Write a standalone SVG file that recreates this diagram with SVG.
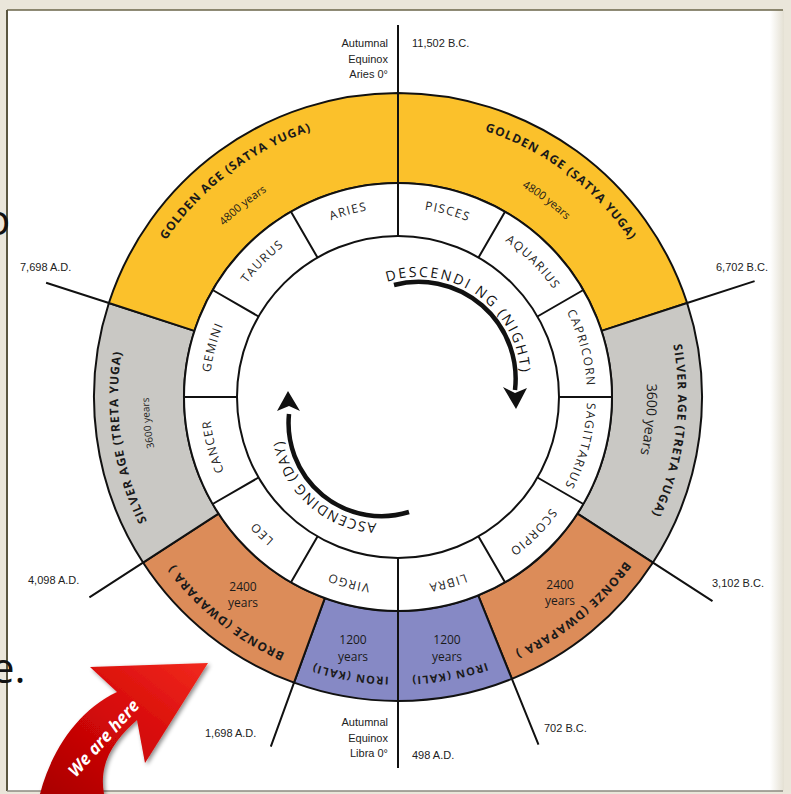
<svg xmlns="http://www.w3.org/2000/svg" width="791" height="794" viewBox="0 0 791 794">
<style>
.ring{stroke:#111;stroke-width:2;stroke-linejoin:round}
.gold{fill:#FBC12B}.silver{fill:#C9C8C4}.bronze{fill:#DC8C59}.iron{fill:#8689C5}
.ln{stroke:#111;stroke-width:2;fill:none}
.lbl{font-family:"Liberation Sans",Arial,sans-serif;font-size:11px;fill:#222}
.title{font-family:"Open Sans",sans-serif;font-weight:700;font-size:12px;fill:#1a1a1a;letter-spacing:1px}
.yrs{font-family:"Open Sans",sans-serif;font-size:11px;fill:#1a1a1a}
.num{font-family:"Open Sans",sans-serif;font-size:12px;fill:#1a1a1a;text-anchor:middle}
.zod{font-family:"Open Sans",sans-serif;font-size:12px;fill:#222;letter-spacing:1.3px}
.dir{font-family:"Open Sans",sans-serif;font-size:14px;fill:#111}
.mid{text-anchor:middle}
.end{text-anchor:end}
.slide{font-family:"Open Sans",sans-serif;font-size:42px;fill:#111}
</style>
<defs>
<path id="c280" d="M398,677 A280,280 0 1 1 398,117 A280,280 0 1 1 398,677"/>
<path id="c244" d="M398,641 A244,244 0 1 1 398,153 A244,244 0 1 1 398,641"/>
<path id="c249" d="M398,646 A249,249 0 1 1 398,148 A249,249 0 1 1 398,646"/>
<path id="c189" d="M398,586 A189,189 0 1 1 398,208 A189,189 0 1 1 398,586"/>
<path id="descPath" d="M383.81,282.95 A102,102 0 0 1 520.7,378.8"/>
<path id="ascPath" d="M381.5,523.2 A100,100 0 0 1 287.53,389"/>
<linearGradient id="redg" x1="0" y1="1" x2="1" y2="0">
<stop offset="0" stop-color="#A80000"/>
<stop offset="0.5" stop-color="#D40808"/>
<stop offset="1" stop-color="#F22A1E"/>
</linearGradient>
<linearGradient id="rightshade" x1="0" y1="0" x2="1" y2="0">
<stop offset="0" stop-color="#FFFFFF"/>
<stop offset="1" stop-color="#E4E0D3"/>
</linearGradient>
<filter id="shadow" x="-20%" y="-20%" width="140%" height="140%">
<feDropShadow dx="2" dy="2" stdDeviation="2" flood-color="#000" flood-opacity="0.45"/>
</filter>
</defs>

<!-- slide frame -->
<g id="frame">
<rect x="0" y="0" width="791" height="794" fill="#EAE6DA"/>
<rect x="7" y="10" width="776" height="781" fill="#FFFFFF"/>
<rect x="770" y="10" width="14" height="781" fill="url(#rightshade)"/>
<line x1="7" y1="10" x2="783" y2="10" stroke="#6A6548" stroke-width="1.5"/>
<line x1="7" y1="10" x2="7" y2="791" stroke="#5A5640" stroke-width="2"/>
<line x1="7" y1="791" x2="783" y2="791" stroke="#8C8A80" stroke-width="1.5"/>
<text class="slide" x="-15" y="235">o</text>
<text class="slide" x="-9" y="683">e.</text>
</g>

<!-- yuga ring -->
<g id="golden-right"><path class="ring gold" d="M398,93 A304,304 0 0 1 687.12,303.06 L601.53,330.87 A214,214 0 0 0 398,183 Z"/></g>
<g id="silver-right"><path class="ring silver" d="M687.12,303.06 A304,304 0 0 1 652.96,562.57 L577.48,513.55 A214,214 0 0 0 601.53,330.87 Z"/></g>
<g id="bronze-right"><path class="ring bronze" d="M652.96,562.57 A304,304 0 0 1 511.88,678.86 L478.17,595.42 A214,214 0 0 0 577.48,513.55 Z"/></g>
<g id="iron-right"><path class="ring iron" d="M511.88,678.86 A304,304 0 0 1 398,701 L398,611 A214,214 0 0 0 478.17,595.42 Z"/></g>
<g id="iron-left"><path class="ring iron" d="M398,701 A304,304 0 0 1 294.03,682.67 L324.81,598.09 A214,214 0 0 0 398,611 Z"/></g>
<g id="bronze-left"><path class="ring bronze" d="M294.03,682.67 A304,304 0 0 1 143.04,562.57 L218.52,513.55 A214,214 0 0 0 324.81,598.09 Z"/></g>
<g id="silver-left"><path class="ring silver" d="M143.04,562.57 A304,304 0 0 1 108.88,303.06 L194.47,330.87 A214,214 0 0 0 218.52,513.55 Z"/></g>
<g id="golden-left"><path class="ring gold" d="M108.88,303.06 A304,304 0 0 1 398,93 L398,183 A214,214 0 0 0 194.47,330.87 Z"/></g>

<!-- zodiac ring -->
<g id="zodiac">
<circle cx="398" cy="397" r="214" fill="#FFFFFF" stroke="#111" stroke-width="2"/>
<circle cx="398" cy="397" r="161" fill="#FFFFFF" stroke="#111" stroke-width="2"/>
<path class="ln" d="M478.5,257.57 L505,211.67 M537.43,316.5 L583.33,290 M559,397 L612,397 M537.43,477.5 L583.33,504 M478.5,536.43 L505,582.33 M317.5,536.43 L291,582.33 M258.57,477.5 L212.67,504 M237,397 L184,397 M258.57,316.5 L212.67,290 M317.5,257.57 L291,211.67"/>
</g>

<!-- connectors: axis and date lines -->
<g id="connectors">
<path class="ln" d="M398,25 L398,236 M398,558 L398,768"/>
<path class="ln" d="M687.12,303.06 L754.6,281.1 M108.88,303.06 L46.1,282.7 M652.96,562.57 L712.5,601.2 M143.04,562.57 L89.4,597.4 M511.88,678.86 L538.5,744.7 M294.03,682.67 L270.8,746.6"/>
</g>

<!-- ring labels -->
<g id="ring-labels">
<text class="title"><textPath href="#c280" startOffset="698.8" text-anchor="middle">GOLDEN AGE (SATYA YUGA)</textPath></text>
<text class="title"><textPath href="#c280" startOffset="1060.5" text-anchor="middle">GOLDEN AGE (SATYA YUGA)</textPath></text>
<text class="yrs"><textPath href="#c244" startOffset="600.5" text-anchor="middle">4800 years</textPath></text>
<text class="yrs"><textPath href="#c244" startOffset="924.1" text-anchor="middle">4800 years</textPath></text>
<text class="title"><textPath href="#c280" startOffset="398.3" text-anchor="middle">SILVER AGE (TRETA YUGA)</textPath></text>
<text class="title"><textPath href="#c280" startOffset="1353.7" text-anchor="middle">SILVER AGE (TRETA YUGA)</textPath></text>
<text class="yrs" style="font-size:10px"><textPath href="#c249" startOffset="365.1" text-anchor="middle">3600 years</textPath></text>
<text class="yrs" style="font-size:14px"><textPath href="#c249" startOffset="1195.1" text-anchor="middle">3600 years</textPath></text>
<text class="title" style="letter-spacing:1.2px"><textPath href="#c280" startOffset="188.6" text-anchor="middle">BRONZE (DWAPARA )</textPath></text>
<text class="title" style="letter-spacing:1.2px"><textPath href="#c280" startOffset="1566.3" text-anchor="middle">BRONZE (DWAPARA )</textPath></text>
<text class="title" style="font-size:11px;letter-spacing:1.2px"><textPath href="#c280" startOffset="47.9" text-anchor="middle">IRON (KALI)</textPath></text>
<text class="title" style="font-size:11px;letter-spacing:1.2px"><textPath href="#c280" startOffset="1707" text-anchor="middle">IRON (KALI)</textPath></text>
<text class="num" x="243" y="591">2400</text>
<text class="num" x="243" y="607">years</text>
<text class="num" x="560" y="589">2400</text>
<text class="num" x="560" y="605">years</text>
<text class="num" x="353" y="644">1200</text>
<text class="num" x="353" y="661">years</text>
<text class="num" x="447" y="644">1200</text>
<text class="num" x="447" y="661">years</text>
</g>

<!-- zodiac labels -->
<g id="zodiac-labels">
<text class="zod"><textPath href="#c189" startOffset="643.2" text-anchor="middle">PISCES</textPath></text>
<text class="zod"><textPath href="#c189" startOffset="742.2" text-anchor="middle">AQUARIUS</textPath></text>
<text class="zod"><textPath href="#c189" startOffset="841.2" text-anchor="middle">CAPRICORN</textPath></text>
<text class="zod"><textPath href="#c189" startOffset="940.1" text-anchor="middle">SAGITTARIUS</textPath></text>
<text class="zod"><textPath href="#c189" startOffset="1039.1" text-anchor="middle">SCORPIO</textPath></text>
<text class="zod"><textPath href="#c189" startOffset="1138.1" text-anchor="middle">LIBRA</textPath></text>
<text class="zod"><textPath href="#c189" startOffset="49.5" text-anchor="middle">VIRGO</textPath></text>
<text class="zod"><textPath href="#c189" startOffset="148.4" text-anchor="middle">LEO</textPath></text>
<text class="zod"><textPath href="#c189" startOffset="247.4" text-anchor="middle">CANCER</textPath></text>
<text class="zod"><textPath href="#c189" startOffset="346.4" text-anchor="middle">GEMINI</textPath></text>
<text class="zod"><textPath href="#c189" startOffset="445.3" text-anchor="middle">TAURUS</textPath></text>
<text class="zod"><textPath href="#c189" startOffset="544.3" text-anchor="middle">ARIES</textPath></text>
</g>

<!-- descending / ascending arrows -->
<g id="descending">
<path d="M394,285 A97,97 0 0 1 515,390" fill="none" stroke="#111" stroke-width="4.5"/>
<polygon points="503,387 515,393 527,388 516,409" fill="#111"/>
<text class="dir" style="letter-spacing:2.2px"><textPath href="#descPath" startOffset="3.5">DESCENDI NG (NIGHT)</textPath></text>
</g>
<g id="ascending">
<path d="M409,512 A93,93 0 0 1 289,414" fill="none" stroke="#111" stroke-width="4.5"/>
<polygon points="277,411 289,406 300,411 288,391" fill="#111"/>
<text class="dir" style="letter-spacing:1.2px"><textPath href="#ascPath" startOffset="5">ASCENDING (DAY)</textPath></text>
</g>

<!-- date / equinox labels -->
<g id="top-labels">
<text class="lbl end" x="388" y="47">Autumnal</text>
<text class="lbl end" x="388" y="63">Equinox</text>
<text class="lbl end" x="388" y="78">Aries 0°</text>
<text class="lbl" x="412" y="47">11,502 B.C.</text>
</g>
<g id="side-labels">
<text class="lbl" x="20" y="271">7,698 A.D.</text>
<text class="lbl" x="716" y="271">6,702 B.C.</text>
<text class="lbl" x="28" y="584">4,098 A.D.</text>
<text class="lbl" x="712" y="587">3,102 B.C.</text>
<text class="lbl" x="205" y="737">1,698 A.D.</text>
<text class="lbl" x="544" y="732">702 B.C.</text>
</g>
<g id="bottom-labels">
<text class="lbl end" x="388" y="726">Autumnal</text>
<text class="lbl end" x="388" y="742">Equinox</text>
<text class="lbl end" x="388" y="757">Libra 0°</text>
<text class="lbl" x="412" y="759">498 A.D.</text>
</g>

<!-- we are here arrow -->
<g id="we-are-here">
<path d="M40,794 C50,755 75,712 117,692 L90,667 L208,663 L145,763 L137,720 C117,738 98,760 104,794 Z" fill="url(#redg)" filter="url(#shadow)"/>
<text x="0" y="0" transform="translate(108,742) rotate(-48)" text-anchor="middle" font-family="'Open Sans',sans-serif" font-weight="700" font-style="italic" font-size="17" fill="#FFFFFF">We are here</text>
</g>
</svg>
